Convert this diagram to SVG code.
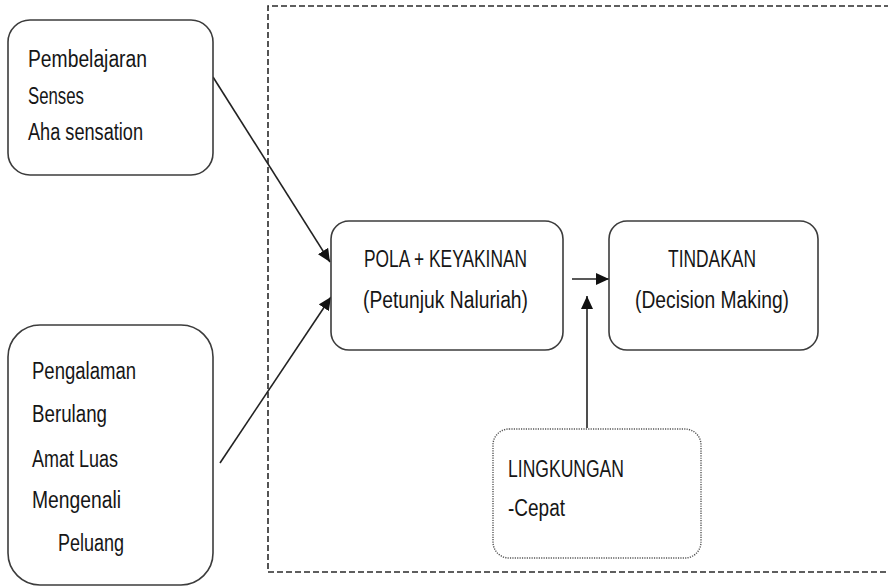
<svg xmlns="http://www.w3.org/2000/svg" width="888" height="586" viewBox="0 0 888 586">
  <style>
    .box { fill: #ffffff; stroke: #3c3c3c; stroke-width: 1.6; }
    .dotted { fill: #ffffff; stroke: #555555; stroke-width: 1.4; stroke-dasharray: 1.2 1.2; }
    .frame { fill: none; stroke: #2a2a2a; stroke-width: 1.6; stroke-dasharray: 6 3; }
    .link { fill: none; stroke: #222222; stroke-width: 1.6; marker-end: url(#arrow); }
    text { font-family: "Liberation Sans", Arial, sans-serif; font-size: 23px; fill: #161616; }
  </style>
  <defs>
    <marker id="arrow" markerUnits="userSpaceOnUse" markerWidth="14" markerHeight="12" refX="13" refY="6" orient="auto">
      <path d="M0,0 L13,6 L0,12 Z" fill="#111111"/>
    </marker>
  </defs>

  <!-- dashed boundary around the decision area -->
  <path class="frame" d="M890 6 H268 V572 H890"/>

  <g id="connectors">
    <line class="link" x1="213" y1="77" x2="330" y2="262"/>
    <line class="link" x1="220" y1="463" x2="331" y2="297"/>
    <line class="link" x1="572" y1="279" x2="609" y2="279"/>
    <line class="link" x1="587" y1="428" x2="587" y2="296"/>
  </g>

  <g id="pembelajaran">
    <rect class="box" x="8" y="20" width="205" height="155" rx="22"/>
    <text x="28" y="67" textLength="119" lengthAdjust="spacingAndGlyphs">Pembelajaran</text>
    <text x="28" y="104" textLength="56" lengthAdjust="spacingAndGlyphs">Senses</text>
    <text x="28" y="140" textLength="115" lengthAdjust="spacingAndGlyphs">Aha sensation</text>
  </g>

  <g id="pengalaman">
    <rect class="box" x="8" y="325" width="205" height="260" rx="32"/>
    <text x="32" y="379" textLength="104" lengthAdjust="spacingAndGlyphs">Pengalaman</text>
    <text x="32" y="422" textLength="75" lengthAdjust="spacingAndGlyphs">Berulang</text>
    <text x="32" y="467" textLength="86" lengthAdjust="spacingAndGlyphs">Amat Luas</text>
    <text x="32" y="508" textLength="89" lengthAdjust="spacingAndGlyphs">Mengenali</text>
    <text x="58" y="551" textLength="66" lengthAdjust="spacingAndGlyphs">Peluang</text>
  </g>

  <g id="pola">
    <rect class="box" x="331" y="221" width="232" height="129" rx="18"/>
    <text x="364" y="267" textLength="163" lengthAdjust="spacingAndGlyphs">POLA + KEYAKINAN</text>
    <text x="363" y="308" textLength="165" lengthAdjust="spacingAndGlyphs">(Petunjuk Naluriah)</text>
  </g>

  <g id="tindakan">
    <rect class="box" x="609" y="221" width="209" height="129" rx="18"/>
    <text x="668" y="267" textLength="88" lengthAdjust="spacingAndGlyphs">TINDAKAN</text>
    <text x="635" y="308" textLength="154" lengthAdjust="spacingAndGlyphs">(Decision Making)</text>
  </g>

  <g id="lingkungan">
    <rect class="dotted" x="493" y="429" width="208" height="129" rx="16"/>
    <text x="508" y="477" textLength="116" lengthAdjust="spacingAndGlyphs">LINGKUNGAN</text>
    <text x="508" y="516" textLength="57" lengthAdjust="spacingAndGlyphs">-Cepat</text>
  </g>
</svg>
